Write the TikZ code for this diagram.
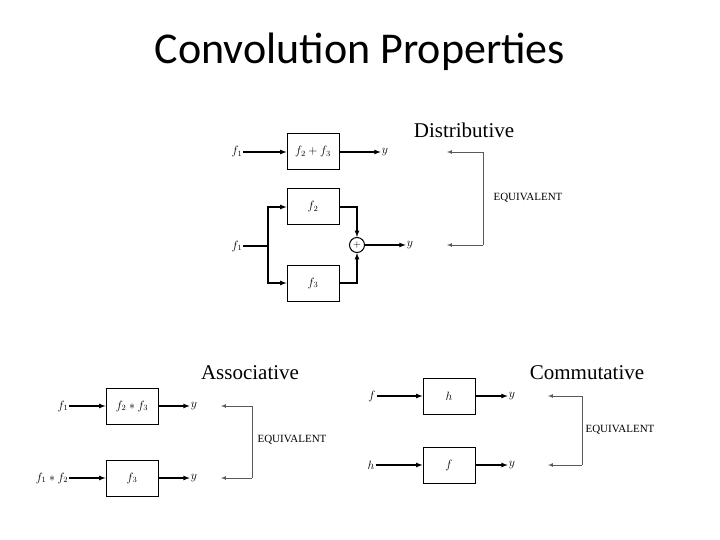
\documentclass[tikz,border=0pt]{standalone}
\usepackage{fontspec}
\setmainfont{Liberation Serif}
\newfontfamily\titlefont{Carlito}
\begin{document}
\begin{tikzpicture}[x=1pt,y=-1pt,
  blk/.style={draw,line width=1pt,minimum width=52pt,minimum height=36pt,inner sep=0pt,font=\fontsize{12}{13}\selectfont},
  lbl/.style={inner sep=1pt,font=\fontsize{12}{13}\selectfont},
  sig/.style={line width=1.2pt,-latex},
  eq/.style={gray!70!black,line width=0.7pt,-latex},
  eqt/.style={font=\fontsize{11}{12}\selectfont},
  head/.style={font=\fontsize{21}{23}\selectfont}]
\useasboundingbox (0,0) rectangle (720,540);
\node[font=\titlefont\fontsize{44}{50}\selectfont] (title) at (360,52) {Convolution Properties};
% Distributive
\node[head] (hd) at (464,130) {Distributive};
\node[lbl] (a1) at (237,152) {$f_1$};
\node[blk] (b1) at (313,152) {$f_2+f_3$};
\node[lbl] (y1) at (385,152) {$y$};
\draw[sig] (a1) -- (b1);
\draw[sig] (b1) -- (y1);
\node[blk] (b2) at (313,207) {$f_2$};
\node[blk] (b3) at (313,283) {$f_3$};
\node[lbl] (a2) at (237,246) {$f_1$};
\coordinate (sp) at (268,246);
\node[draw,circle,line width=1pt,minimum size=15pt,inner sep=0pt] (sum) at (357,245) {$+$};
\node[lbl] (y2) at (410,245) {$y$};
\draw[line width=1.2pt] (a2) -- (sp);
\draw[sig] (sp) |- (b2.west);
\draw[sig] (sp) |- (b3.west);
\draw[sig] (b2.east) -| (sum.north);
\draw[sig] (b3.east) -| (sum.south);
\draw[sig] (sum) -- (y2);
\coordinate (e1) at (483,152);
\coordinate (e2) at (483,245);
\coordinate (t1) at (447,152);
\coordinate (t2) at (447,245);
\draw[eq] (e1) -- (t1);
\draw[eq] (e2) -- (t2);
\draw[gray!70!black,line width=0.7pt] (e1) -- (e2);
\node[eqt] (q1) at (528,198) {EQUIVALENT};
% Associative
\node[head] (ha) at (250,373) {Associative};
\node[lbl] (c1) at (63,406) {$f_1$};
\node[blk] (d1) at (132,406) {$f_2*f_3$};
\node[lbl] (z1) at (194,406) {$y$};
\draw[sig] (c1) -- (d1);
\draw[sig] (d1) -- (z1);
\node[lbl] (c2) at (52,478) {$f_1*f_2$};
\node[blk] (d2) at (132,478) {$f_3$};
\node[lbl] (z2) at (194,478) {$y$};
\draw[sig] (c2) -- (d2);
\draw[sig] (d2) -- (z2);
\coordinate (g1) at (252,406);
\coordinate (g2) at (252,478);
\coordinate (h1) at (221,406);
\coordinate (h2) at (221,478);
\draw[eq] (g1) -- (h1);
\draw[eq] (g2) -- (h2);
\draw[gray!70!black,line width=0.7pt] (g1) -- (g2);
\node[eqt] (q2) at (292,440) {EQUIVALENT};
% Commutative
\node[head] (hc) at (587,373) {Commutative};
\node[lbl] (m1) at (372,396) {$f$};
\node[blk] (n1) at (449,396) {$h$};
\node[lbl] (w1) at (512,396) {$y$};
\draw[sig] (m1) -- (n1);
\draw[sig] (n1) -- (w1);
\node[lbl] (m2) at (371,465) {$h$};
\node[blk] (n2) at (449,465) {$f$};
\node[lbl] (w2) at (512,465) {$y$};
\draw[sig] (m2) -- (n2);
\draw[sig] (n2) -- (w2);
\coordinate (k1) at (582,396);
\coordinate (k2) at (582,465);
\coordinate (l1) at (548,396);
\coordinate (l2) at (548,465);
\draw[eq] (k1) -- (l1);
\draw[eq] (k2) -- (l2);
\draw[gray!70!black,line width=0.7pt] (k1) -- (k2);
\node[eqt] (q3) at (620,430) {EQUIVALENT};
\end{tikzpicture}
\end{document}
